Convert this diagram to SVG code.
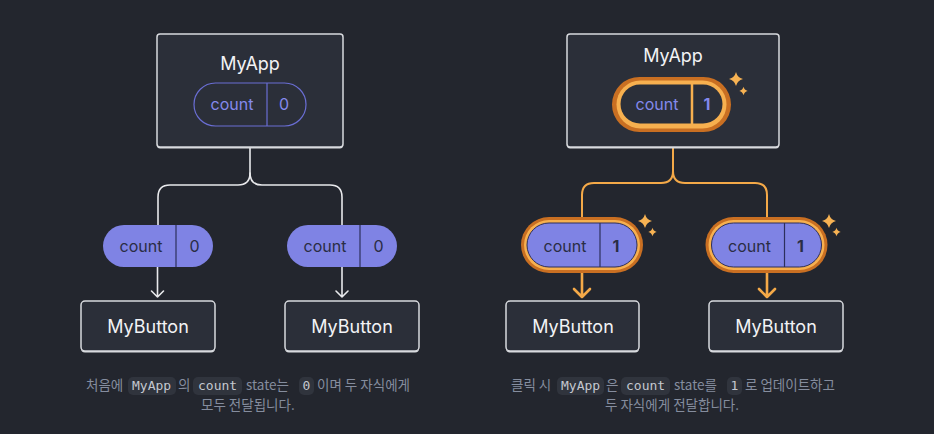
<svg xmlns="http://www.w3.org/2000/svg" width="934" height="434" viewBox="0 0 934 434">
<style>
.box{fill:#2b2f39;stroke:#d8dade;stroke-width:1.5}
.shadow{fill:#d8dade}
.title{font-family:Inter,"Noto Sans",sans-serif;font-size:18px;font-weight:400;fill:#f2f3f5;text-anchor:middle}
.wire{fill:none;stroke:#e8e9ec;stroke-width:1.6;stroke-linecap:round;stroke-linejoin:round}
.owire{fill:none;stroke:#f4a948;stroke-width:2;stroke-linejoin:round}
.oarrow{fill:none;stroke:#f4a948;stroke-width:2.6;stroke-linecap:round;stroke-linejoin:round}
.pill{fill:#7f83e4}
.pilltxt{font-family:Inter,"Noto Sans",sans-serif;font-size:16px;fill:#2a2d44;text-anchor:middle}
.ptxt{font-family:Inter,"Noto Sans",sans-serif;font-size:16px;fill:#8489ec;text-anchor:middle}
.num{font-weight:700}
.cap{font-family:"Noto Sans CJK KR","Noto Sans",sans-serif;font-size:13.5px;fill:#858d9e}
.code{fill:#30343d}
.mono{font-family:"DejaVu Sans Mono","Liberation Mono",monospace;font-size:13px;fill:#c4c8d0}
.spark{fill:#f7b253}
</style>
<defs>
<path id="spark" d="M0,-1 Q0.2,-0.2 1,0 Q0.2,0.2 0,1 Q-0.2,0.2 -1,0 Q-0.2,-0.2 0,-1 Z"/>
</defs>
<rect width="934" height="434" fill="#23262e"/>

<g id="connectors">
  <path class="wire" d="M250,147 V173 Q250,185 238,185 H170 Q158,185 158,197 V225"/>
  <path class="wire" d="M250,173 Q250,185 262,185 H330 Q342,185 342,197 V225"/>
  <path class="wire" d="M157.5,267 V297 M151.5,291 L157.5,297 L163.5,291"/>
  <path class="wire" d="M342,267 V297 M336,291 L342,297 L348,291"/>
  <path class="owire" d="M673,148 V171 Q673,183 661,183 H594 Q582,183 582,195 V218"/>
  <path class="owire" d="M673,171 Q673,183 685,183 H755 Q767,183 767,195 V218"/>
  <path class="oarrow" d="M582,273 V297 M574,289 L582,297 L590,289"/>
  <path class="oarrow" d="M767,273 V297 M759,289 L767,297 L775,289"/>
</g>

<g id="myapp-left">
  <rect class="shadow" x="157" y="35.5" width="186" height="113" rx="3"/>
  <rect class="box" x="157" y="34" width="186" height="113" rx="3"/>
  <text class="title" x="250" y="70">MyApp</text>
  <rect x="194" y="83" width="112" height="43" rx="21.5" fill="none" stroke="#6a6ed4" stroke-width="1.2"/>
  <line x1="267" y1="83" x2="267" y2="126" stroke="#6a6ed4" stroke-width="1.2"/>
  <text class="ptxt" x="232" y="110">count</text>
  <text class="ptxt" x="284" y="110">0</text>
</g>

<g id="count-left-1">
  <rect class="pill" x="103" y="225" width="110" height="42" rx="21"/>
  <line x1="176" y1="225" x2="176" y2="267" stroke="#2c2f5c" stroke-width="1.2"/>
  <text class="pilltxt" x="141" y="251.5">count</text>
  <text class="pilltxt" x="194.5" y="251.5">0</text>
</g>
<g id="count-left-2">
  <rect class="pill" x="287" y="225" width="110" height="42" rx="21"/>
  <line x1="360" y1="225" x2="360" y2="267" stroke="#2c2f5c" stroke-width="1.2"/>
  <text class="pilltxt" x="325" y="251.5">count</text>
  <text class="pilltxt" x="378.5" y="251.5">0</text>
</g>

<g id="mybutton-left-1">
  <rect class="shadow" x="81" y="302.5" width="134" height="50" rx="4"/>
  <rect class="box" x="81" y="301" width="134" height="50" rx="4"/>
  <text class="title" x="148" y="333">MyButton</text>
</g>
<g id="mybutton-left-2">
  <rect class="shadow" x="285" y="302.5" width="134" height="50" rx="4"/>
  <rect class="box" x="285" y="301" width="134" height="50" rx="4"/>
  <text class="title" x="352" y="333">MyButton</text>
</g>

<g id="caption-left">
  <rect class="code" x="128" y="377" width="48" height="18" rx="5"/>
  <rect class="code" x="193" y="377" width="49" height="18" rx="5"/>
  <rect class="code" x="299" y="377" width="15" height="18" rx="5"/>
  <text class="cap" y="389.5"><tspan x="86">처음에</tspan><tspan class="mono" x="132">MyApp</tspan><tspan x="178">의</tspan><tspan class="mono" x="198">count</tspan><tspan x="246">state는</tspan><tspan class="mono" x="302.5">0</tspan><tspan x="317">이며 두 자식에게</tspan><tspan x="201" y="409.5">모두 전달됩니다.</tspan></text>
</g>

<g id="myapp-right">
  <rect class="shadow" x="567" y="35.5" width="212" height="113" rx="3"/>
  <rect class="box" x="567" y="34" width="212" height="113" rx="3"/>
  <text class="title" x="673" y="62">MyApp</text>
  <rect x="612" y="77" width="119" height="55" rx="27.5" fill="#c96f22"/>
  <rect x="616.5" y="80.5" width="110" height="48" rx="24" fill="#f7b04f"/>
  <rect x="620.5" y="84.5" width="102" height="39" rx="19.5" fill="#2b2f39"/>
  <line x1="692" y1="84" x2="692" y2="124" stroke="#f7b04f" stroke-width="2.5"/>
  <text class="ptxt" x="657" y="110">count</text>
  <text class="ptxt num" x="707" y="110">1</text>
  <use href="#spark" class="spark" transform="translate(736,79) scale(7)"/>
  <use href="#spark" class="spark" transform="translate(743.5,91) scale(4.2)"/>
</g>

<g id="count-right-1">
  <rect x="521" y="217" width="122" height="56" rx="28" fill="#c96f22"/>
  <rect x="524" y="220" width="116" height="50" rx="25" fill="#f7b04f"/>
  <rect class="pill" x="527" y="223" width="110" height="44" rx="22" stroke="#2c2f5c" stroke-width="1"/>
  <line x1="600" y1="223" x2="600" y2="267" stroke="#2c2f5c" stroke-width="1.2"/>
  <text class="pilltxt" x="565" y="251.5">count</text>
  <text class="pilltxt num" x="616" y="251.5">1</text>
  <use href="#spark" class="spark" transform="translate(645,221) scale(7)"/>
  <use href="#spark" class="spark" transform="translate(652.5,232) scale(4.2)"/>
</g>
<g id="count-right-2">
  <rect x="705.5" y="217" width="122" height="56" rx="28" fill="#c96f22"/>
  <rect x="708.5" y="220" width="116" height="50" rx="25" fill="#f7b04f"/>
  <rect class="pill" x="711.5" y="223" width="110" height="44" rx="22" stroke="#2c2f5c" stroke-width="1"/>
  <line x1="784.5" y1="223" x2="784.5" y2="267" stroke="#2c2f5c" stroke-width="1.2"/>
  <text class="pilltxt" x="749.5" y="251.5">count</text>
  <text class="pilltxt num" x="800.5" y="251.5">1</text>
  <use href="#spark" class="spark" transform="translate(829,221) scale(7)"/>
  <use href="#spark" class="spark" transform="translate(836.5,232) scale(4.2)"/>
</g>

<g id="mybutton-right-1">
  <rect class="shadow" x="506" y="302.5" width="133" height="50" rx="4"/>
  <rect class="box" x="506" y="301" width="133" height="50" rx="4"/>
  <text class="title" x="573" y="333">MyButton</text>
</g>
<g id="mybutton-right-2">
  <rect class="shadow" x="709" y="302.5" width="134" height="50" rx="4"/>
  <rect class="box" x="709" y="301" width="134" height="50" rx="4"/>
  <text class="title" x="776" y="333">MyButton</text>
</g>

<g id="caption-right">
  <rect class="code" x="557" y="377" width="47" height="18" rx="5"/>
  <rect class="code" x="621" y="377" width="49" height="18" rx="5"/>
  <rect class="code" x="727" y="377" width="15" height="18" rx="5"/>
  <text class="cap" y="389.5"><tspan x="511">클릭 시</tspan><tspan class="mono" x="561">MyApp</tspan><tspan x="606">은</tspan><tspan class="mono" x="626">count</tspan><tspan x="674">state를</tspan><tspan class="mono" x="730.5">1</tspan><tspan x="745">로 업데이트하고</tspan><tspan x="605" y="409.5">두 자식에게 전달합니다.</tspan></text>
</g>
</svg>
